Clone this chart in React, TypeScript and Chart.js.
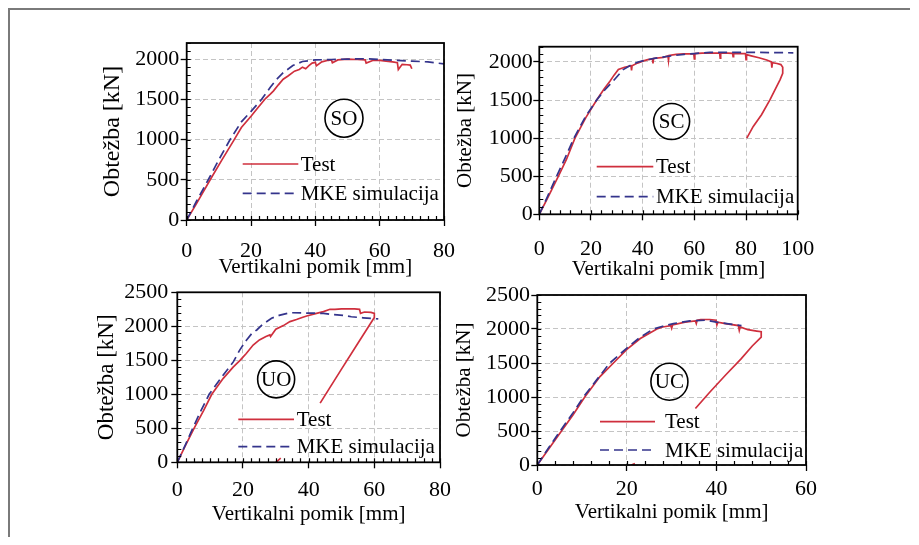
import React, { useEffect, useRef } from 'react';
import { Chart, registerables } from 'chart.js';

Chart.register(...registerables);

// ---------------- data ----------------
const legendLabels = ['Test', 'MKE simulacija'];
const xAxisTitle = 'Vertikalni pomik [mm]';
const yAxisTitle = 'Obtežba [kN]';
const panelTags = ['SO', 'SC', 'UO', 'UC'];

// tick values
const xTicks80 = [0, 20, 40, 60, 80];
const xTicks100 = [0, 20, 40, 60, 80, 100];
const xTicks60 = [0, 20, 40, 60];
const yTicks2000 = [0, 500, 1000, 1500, 2000];
const yTicks2500 = [0, 500, 1000, 1500, 2000, 2500];

// SO
const soTestX = [0, 3, 7.3, 11, 14.5, 17, 20, 22, 24.5, 26, 27, 28.5, 30, 31.5, 33.5, 35, 36, 37, 38, 39, 40, 40.3, 42, 44, 45, 45.3, 47, 50, 53, 55.5, 55.8, 58, 60, 62, 64, 65.5, 65.8, 67, 68.5, 69.5, 70];
const soTestY = [0, 200, 500, 750, 980, 1150, 1290, 1390, 1510, 1565, 1605, 1680, 1750, 1790, 1850, 1870, 1900, 1880, 1920, 1950, 1960, 1915, 1965, 1985, 1990, 1955, 1990, 2000, 1995, 1990, 1950, 1985, 1985, 1975, 1965, 1955, 1870, 1935, 1930, 1925, 1880];
const soFemX = [0, 3, 6.7, 10, 13.5, 17, 20, 23.3, 26, 28, 30, 33, 36, 40, 45, 50, 56, 60, 65, 70, 75, 80];
const soFemY = [0, 230, 500, 750, 1000, 1220, 1350, 1500, 1650, 1750, 1830, 1920, 1970, 1990, 1995, 2000, 2005, 1995, 1985, 1975, 1965, 1940];

// SC
const scTestX = [0, 3, 7.4, 10.5, 13.8, 18, 22.2, 25, 27.4, 29, 30.6, 33, 35.5, 35.7, 35.9, 38, 40, 42, 43.8, 44, 44.2, 48, 49.8, 50, 50.2, 53, 56, 59.8, 60, 60.2, 63, 66, 69.8, 70, 70.2, 73, 74.8, 75, 75.2, 79.8, 80, 80.2, 82, 85, 88, 89.8, 90, 90.2, 92, 93.5, 94.2, 94.2, 93.2, 91, 89.3, 86, 82.8, 80.3];
const scTestY = [0, 200, 500, 720, 1000, 1270, 1500, 1640, 1750, 1830, 1900, 1930, 1950, 1890, 1950, 1985, 2010, 2030, 2040, 1980, 2045, 2060, 2080, 2020, 2085, 2100, 2105, 2110, 2040, 2110, 2115, 2115, 2115, 2050, 2115, 2115, 2112, 2070, 2112, 2110, 2030, 2095, 2080, 2055, 2025, 2000, 1925, 1990, 1980, 1965, 1930, 1850, 1768, 1620, 1504, 1307, 1154, 1000];
const scFemX = [0, 3, 6.7, 10, 13.4, 18, 22.2, 25, 28.6, 32.5, 35, 38.3, 42, 45, 50, 56, 60, 66, 75, 85, 98.3];
const scFemY = [0, 220, 500, 740, 1000, 1290, 1500, 1620, 1750, 1900, 1950, 2000, 2030, 2050, 2075, 2100, 2110, 2125, 2125, 2125, 2120];

// UO
const uoTestX = [0, 2.5, 5.1, 8, 10.5, 14, 17, 19.1, 21, 23.1, 25, 27, 28.2, 28.4, 30, 32.3, 34.3, 36.3, 38, 39.4, 42.4, 44.5, 46.5, 48, 50, 52, 54, 55.5, 55.8, 57, 59, 60, 60, 55, 50, 43.5, 43.5, 30, 31.5];
const uoTestY = [0, 250, 500, 760, 1000, 1235, 1400, 1500, 1600, 1725, 1800, 1850, 1873, 1850, 1956, 2010, 2069, 2100, 2130, 2152, 2190, 2216, 2250, 2250, 2255, 2255, 2255, 2250, 2190, 2210, 2205, 2190, 2130, 1750, 1370, 870, null, 0, 60];
const uoFemX = [0, 2.5, 4.7, 7, 9.7, 14, 17.1, 19, 21.1, 22.8, 24.2, 26, 28.7, 31, 34.3, 39.4, 44.5, 47, 50.6, 53, 56.6, 61.2];
const uoFemY = [0, 260, 500, 740, 1000, 1284, 1480, 1650, 1800, 1900, 1946, 2030, 2118, 2160, 2200, 2195, 2190, 2175, 2160, 2140, 2125, 2108];

// UC
const ucTestX = [0, 2.5, 5.4, 8, 10.6, 14, 17, 20, 23, 26.7, 28, 29.8, 30, 30.2, 33, 35.3, 35.5, 35.7, 36.5, 38.5, 39.9, 40.1, 40.3, 42, 44.9, 45.1, 45.3, 47, 49, 50, 50, 48, 45.5, 42, 38.5, 35.3, 35.3, 21, 21.8];
const ucTestY = [0, 230, 500, 740, 1000, 1300, 1500, 1700, 1860, 2000, 2030, 2050, 2010, 2060, 2100, 2120, 2080, 2130, 2140, 2140, 2130, 2060, 2100, 2080, 2050, 1980, 2030, 1990, 1970, 1960, 1880, 1750, 1560, 1320, 1070, 830, null, 0, 20];
const ucFemX = [0, 2.5, 5.1, 8, 10.3, 13, 16.2, 20, 23, 25.9, 28, 30.4, 34.1, 37.8, 40, 42.3, 45.6];
const ucFemY = [0, 250, 500, 770, 1000, 1230, 1500, 1720, 1880, 2000, 2040, 2080, 2120, 2130, 2100, 2080, 2050];

// ---------------- styles / layout ----------------
const RED = '#cf2f3d';
const BLUE = '#34348c';
const FONT = 'Liberation Serif';

type Panel = {
  tag: string;
  testX: number[]; testY: (number | null)[];
  femX: number[]; femY: number[];
  xTicks: number[]; yTicks: number[];
  xMax: number; yMax: number;
  xMinor: number; yMinor: number;
  box: { left: number; top: number; width: number; height: number };
  padTop: number; padRight: number; yAxisW: number; xAxisH: number;
  xTickPad: number; yTickPad: number; xTitlePad: number; yTitlePad: number; yTitleSize: number;
  tagPos: { x: number; y: number; r: number };
  leg: { dx: number; y1: number; y2: number; len: number; gap: number };
};

const panels: Panel[] = [
  {
    tag: panelTags[0], testX: soTestX, testY: soTestY, femX: soFemX, femY: soFemY,
    xTicks: xTicks80, yTicks: yTicks2000,
    xMax: 80, yMax: 2200, xMinor: 2.5, yMinor: 100,
    box: { left: 90, top: 30, width: 370, height: 250 },
    padTop: 13, padRight: 16, yAxisW: 96.7, xAxisH: 60,
    xTickPad: 12.5, yTickPad: 1.5, xTitlePad: 0, yTitlePad: 7.9, yTitleSize: 24,
    tagPos: { x: 48.9, y: 1265, r: 19 },
    leg: { dx: 56, y1: 121, y2: 150.3, len: 55.6, gap: 2.4 },
  },
  {
    tag: panelTags[1], testX: scTestX, testY: scTestY, femX: scFemX, femY: scFemY,
    xTicks: xTicks100, yTicks: yTicks2000,
    xMax: 100, yMax: 2200, xMinor: 4, yMinor: 100,
    box: { left: 450, top: 30, width: 370, height: 250 },
    padTop: 16.7, padRight: 22.3, yAxisW: 89.3, xAxisH: 65.7,
    xTickPad: 15.5, yTickPad: 0.6, xTitlePad: -2, yTitlePad: 3.2, yTitleSize: 21,
    tagPos: { x: 51.2, y: 1218, r: 18 },
    leg: { dx: 57.4, y1: 120, y2: 150, len: 56.6, gap: 2.7 },
  },
  {
    tag: panelTags[2], testX: uoTestX, testY: uoTestY, femX: uoFemX, femY: uoFemY,
    xTicks: xTicks80, yTicks: yTicks2500,
    xMax: 80, yMax: 2500, xMinor: 2.5, yMinor: 100,
    box: { left: 90, top: 280, width: 370, height: 250 },
    padTop: 12.3, padRight: 20, yAxisW: 87.3, xAxisH: 67.7,
    xTickPad: 8.5, yTickPad: 3, xTitlePad: 3, yTitlePad: 2.9, yTitleSize: 23,
    tagPos: { x: 30.1, y: 1220, r: 18.5 },
    leg: { dx: 61, y1: 127, y2: 154.4, len: 55.7, gap: 2.7 },
  },
  {
    tag: panelTags[3], testX: ucTestX, testY: ucTestY, femX: ucFemX, femY: ucFemY,
    xTicks: xTicks60, yTicks: yTicks2500,
    xMax: 60, yMax: 2500, xMinor: 4, yMinor: 100,
    box: { left: 450, top: 280, width: 370, height: 250 },
    padTop: 15, padRight: 14, yAxisW: 87.3, xAxisH: 65,
    xTickPad: 5.5, yTickPad: 1.3, xTitlePad: 4.5, yTitlePad: 1.6, yTitleSize: 21,
    tagPos: { x: 29.5, y: 1225, r: 18.5 },
    leg: { dx: 62.7, y1: 126.7, y2: 155, len: 55, gap: 10 },
  },
];

const zip = (xs: number[], ys: (number | null)[]) => xs.map((x, i) => ({ x, y: ys[i] }));

const decorPlugin = {
  id: 'decor',
  afterDatasetsDraw(chart: any, _args: any, opts: any) {
    const { ctx, chartArea: a, scales } = chart;
    const xs = scales.x;
    const ys = scales.y;
    const p: Panel = opts.panel;
    ctx.save();
    // inward ticks (major + minor)
    ctx.strokeStyle = '#000';
    ctx.lineWidth = 1.2;
    ctx.setLineDash([]);
    ctx.beginPath();
    const nx = Math.round(p.xMax / p.xMinor);
    for (let i = 0; i <= nx; i++) {
      const px = Math.round(xs.getPixelForValue(i * p.xMinor)) + 0.5;
      ctx.moveTo(px, a.bottom);
      ctx.lineTo(px, a.bottom - 4);
    }
    const ny = Math.floor(p.yMax / p.yMinor + 1e-9);
    for (let i = 0; i <= ny; i++) {
      const py = Math.round(ys.getPixelForValue(i * p.yMinor)) + 0.5;
      ctx.moveTo(a.left, py);
      ctx.lineTo(a.left + 4, py);
    }
    ctx.stroke();
    // frame
    ctx.lineWidth = 1.8;
    ctx.strokeRect(a.left, a.top, a.right - a.left, a.bottom - a.top);
    // circled tag
    const cx = xs.getPixelForValue(p.tagPos.x);
    const cy = ys.getPixelForValue(p.tagPos.y);
    ctx.beginPath();
    ctx.arc(cx, cy, p.tagPos.r, 0, Math.PI * 2);
    ctx.lineWidth = 1.6;
    ctx.stroke();
    ctx.fillStyle = '#000';
    ctx.font = `21px "${FONT}"`;
    ctx.textAlign = 'center';
    ctx.textBaseline = 'middle';
    ctx.fillText(p.tag, cx, cy + 1);
    // legend
    const lx = a.left + p.leg.dx;
    const rows = [
      { y: a.top + p.leg.y1, color: RED, dash: [] as number[], text: legendLabels[0] },
      { y: a.top + p.leg.y2, color: BLUE, dash: [9, 5], text: legendLabels[1] },
    ];
    rows.forEach((r) => {
      ctx.beginPath();
      ctx.strokeStyle = r.color;
      ctx.lineWidth = 1.7;
      ctx.setLineDash(r.dash);
      ctx.moveTo(lx, r.y);
      ctx.lineTo(lx + p.leg.len, r.y);
      ctx.stroke();
      ctx.setLineDash([]);
      ctx.textAlign = 'left';
      ctx.fillStyle = '#000';
      ctx.fillText(r.text, lx + p.leg.len + p.leg.gap, r.y + 1);
    });
    ctx.restore();
  },
};

function PanelChart({ p }: { p: Panel }) {
  const ref = useRef<HTMLCanvasElement | null>(null);
  useEffect(() => {
    if (!ref.current) return;
    const tickFont = { family: FONT, size: 22 };
    const gridOpts = { color: '#c4c4c4', lineWidth: 1, drawTicks: true, tickLength: 6, tickColor: '#000', tickWidth: 1.3, tickBorderDash: [] };
    const noOverflow = (s: any) => {
      s.paddingLeft = 0;
      s.paddingRight = 0;
      s.paddingTop = 0;
      s.paddingBottom = 0;
    };
    const chart = new Chart(ref.current, {
      type: 'line',
      data: {
        datasets: [
          {
            label: legendLabels[0],
            data: zip(p.testX, p.testY) as any,
            borderColor: RED,
            borderWidth: 1.7,
            pointRadius: 0,
            spanGaps: false,
            tension: 0,
            order: 1,
          },
          {
            label: legendLabels[1],
            data: zip(p.femX, p.femY) as any,
            borderColor: BLUE,
            borderWidth: 1.7,
            borderDash: [9, 5],
            pointRadius: 0,
            tension: 0,
            order: 0,
          },
        ],
      },
      options: {
        animation: false,
        responsive: false,
        devicePixelRatio: 1,
        layout: { padding: { top: p.padTop, right: p.padRight, left: 0, bottom: 0 } },
        plugins: {
          legend: { display: false },
          tooltip: { enabled: false },
          decor: { panel: p },
        } as any,
        scales: {
          x: {
            type: 'linear',
            min: 0,
            max: p.xMax,
            afterBuildTicks: (s: any) => { s.ticks = p.xTicks.map((v) => ({ value: v })); },
            afterFit: (s: any) => { s.height = p.xAxisH; noOverflow(s); },
            ticks: { padding: p.xTickPad, font: tickFont, color: '#000', maxRotation: 0, autoSkip: false, callback: (v: any) => String(v) },
            grid: gridOpts,
            border: { display: false, dash: [5, 3] },
            title: { display: true, text: xAxisTitle, color: '#000', font: { family: FONT, size: 21 }, padding: { top: 0, bottom: p.xTitlePad } },
          },
          y: {
            type: 'linear',
            min: 0,
            max: p.yMax,
            afterBuildTicks: (s: any) => { s.ticks = p.yTicks.map((v) => ({ value: v })); },
            afterFit: (s: any) => { s.width = p.yAxisW; noOverflow(s); },
            ticks: { padding: p.yTickPad, font: tickFont, color: '#000', autoSkip: false, callback: (v: any) => String(v) },
            grid: gridOpts,
            border: { display: false, dash: [5, 3] },
            title: { display: true, text: yAxisTitle, color: '#000', font: { family: FONT, size: p.yTitleSize }, padding: { top: p.yTitlePad, bottom: 0 } },
          },
        },
      } as any,
      plugins: [decorPlugin as any],
    });
    return () => chart.destroy();
  }, [p]);
  return (
    <canvas
      ref={ref}
      width={p.box.width}
      height={p.box.height}
      style={{ position: 'absolute', left: p.box.left - 10, top: p.box.top - 10, width: p.box.width, height: p.box.height }}
    />
  );
}

export default function App() {
  return (
    <div
      style={{
        position: 'relative',
        width: 900,
        height: 527,
        borderTop: '2px solid #7a7a7a',
        borderLeft: '2px solid #7a7a7a',
        background: '#fff',
      }}
    >
      {panels.map((p) => (
        <PanelChart key={p.tag} p={p} />
      ))}
    </div>
  );
}
